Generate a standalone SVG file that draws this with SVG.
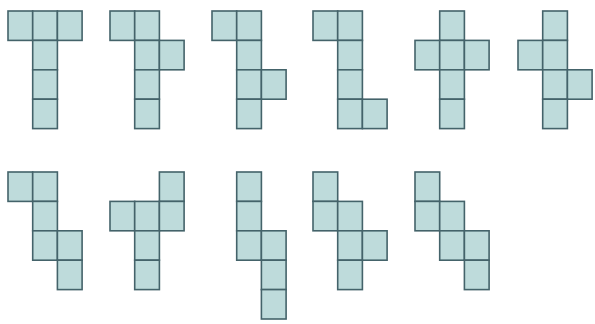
<svg xmlns="http://www.w3.org/2000/svg" width="595" height="324" viewBox="0 0 595 324">
<style>
.c{fill:#bedbdb;stroke:#44636a;stroke-width:1.6}
</style>
<rect width="595" height="324" fill="#ffffff"/>
<g id="net1" transform="translate(8,11)">
<rect class="c" x="0" y="0" width="24.7" height="29.4"/><rect class="c" x="24.7" y="0" width="24.7" height="29.4"/><rect class="c" x="49.4" y="0" width="24.7" height="29.4"/><rect class="c" x="24.7" y="29.4" width="24.7" height="29.4"/><rect class="c" x="24.7" y="58.8" width="24.7" height="29.4"/><rect class="c" x="24.7" y="88.2" width="24.7" height="29.4"/>
</g>
<g id="net2" transform="translate(110,11)">
<rect class="c" x="0" y="0" width="24.7" height="29.4"/><rect class="c" x="24.7" y="0" width="24.7" height="29.4"/><rect class="c" x="24.7" y="29.4" width="24.7" height="29.4"/><rect class="c" x="49.4" y="29.4" width="24.7" height="29.4"/><rect class="c" x="24.7" y="58.8" width="24.7" height="29.4"/><rect class="c" x="24.7" y="88.2" width="24.7" height="29.4"/>
</g>
<g id="net3" transform="translate(212,11)">
<rect class="c" x="0" y="0" width="24.7" height="29.4"/><rect class="c" x="24.7" y="0" width="24.7" height="29.4"/><rect class="c" x="24.7" y="29.4" width="24.7" height="29.4"/><rect class="c" x="24.7" y="58.8" width="24.7" height="29.4"/><rect class="c" x="49.4" y="58.8" width="24.7" height="29.4"/><rect class="c" x="24.7" y="88.2" width="24.7" height="29.4"/>
</g>
<g id="net4" transform="translate(313,11)">
<rect class="c" x="0" y="0" width="24.7" height="29.4"/><rect class="c" x="24.7" y="0" width="24.7" height="29.4"/><rect class="c" x="24.7" y="29.4" width="24.7" height="29.4"/><rect class="c" x="24.7" y="58.8" width="24.7" height="29.4"/><rect class="c" x="24.7" y="88.2" width="24.7" height="29.4"/><rect class="c" x="49.4" y="88.2" width="24.7" height="29.4"/>
</g>
<g id="net5" transform="translate(415,11)">
<rect class="c" x="24.7" y="0" width="24.7" height="29.4"/><rect class="c" x="0" y="29.4" width="24.7" height="29.4"/><rect class="c" x="24.7" y="29.4" width="24.7" height="29.4"/><rect class="c" x="49.4" y="29.4" width="24.7" height="29.4"/><rect class="c" x="24.7" y="58.8" width="24.7" height="29.4"/><rect class="c" x="24.7" y="88.2" width="24.7" height="29.4"/>
</g>
<g id="net6" transform="translate(518,11)">
<rect class="c" x="24.7" y="0" width="24.7" height="29.4"/><rect class="c" x="0" y="29.4" width="24.7" height="29.4"/><rect class="c" x="24.7" y="29.4" width="24.7" height="29.4"/><rect class="c" x="24.7" y="58.8" width="24.7" height="29.4"/><rect class="c" x="49.4" y="58.8" width="24.7" height="29.4"/><rect class="c" x="24.7" y="88.2" width="24.7" height="29.4"/>
</g>
<g id="net7" transform="translate(8,172)">
<rect class="c" x="0" y="0" width="24.7" height="29.4"/><rect class="c" x="24.7" y="0" width="24.7" height="29.4"/><rect class="c" x="24.7" y="29.4" width="24.7" height="29.4"/><rect class="c" x="24.7" y="58.8" width="24.7" height="29.4"/><rect class="c" x="49.4" y="58.8" width="24.7" height="29.4"/><rect class="c" x="49.4" y="88.2" width="24.7" height="29.4"/>
</g>
<g id="net8" transform="translate(110,172)">
<rect class="c" x="49.4" y="0" width="24.7" height="29.4"/><rect class="c" x="0" y="29.4" width="24.7" height="29.4"/><rect class="c" x="24.7" y="29.4" width="24.7" height="29.4"/><rect class="c" x="49.4" y="29.4" width="24.7" height="29.4"/><rect class="c" x="24.7" y="58.8" width="24.7" height="29.4"/><rect class="c" x="24.7" y="88.2" width="24.7" height="29.4"/>
</g>
<g id="net9" transform="translate(212,172)">
<rect class="c" x="24.7" y="0" width="24.7" height="29.4"/><rect class="c" x="24.7" y="29.4" width="24.7" height="29.4"/><rect class="c" x="24.7" y="58.8" width="24.7" height="29.4"/><rect class="c" x="49.4" y="58.8" width="24.7" height="29.4"/><rect class="c" x="49.4" y="88.2" width="24.7" height="29.4"/><rect class="c" x="49.4" y="117.6" width="24.7" height="29.4"/>
</g>
<g id="net10" transform="translate(313,172)">
<rect class="c" x="0" y="0" width="24.7" height="29.4"/><rect class="c" x="0" y="29.4" width="24.7" height="29.4"/><rect class="c" x="24.7" y="29.4" width="24.7" height="29.4"/><rect class="c" x="24.7" y="58.8" width="24.7" height="29.4"/><rect class="c" x="49.4" y="58.8" width="24.7" height="29.4"/><rect class="c" x="24.7" y="88.2" width="24.7" height="29.4"/>
</g>
<g id="net11" transform="translate(415,172)">
<rect class="c" x="0" y="0" width="24.7" height="29.4"/><rect class="c" x="0" y="29.4" width="24.7" height="29.4"/><rect class="c" x="24.7" y="29.4" width="24.7" height="29.4"/><rect class="c" x="24.7" y="58.8" width="24.7" height="29.4"/><rect class="c" x="49.4" y="58.8" width="24.7" height="29.4"/><rect class="c" x="49.4" y="88.2" width="24.7" height="29.4"/>
</g>
<g id="connectors"/>
</svg>
